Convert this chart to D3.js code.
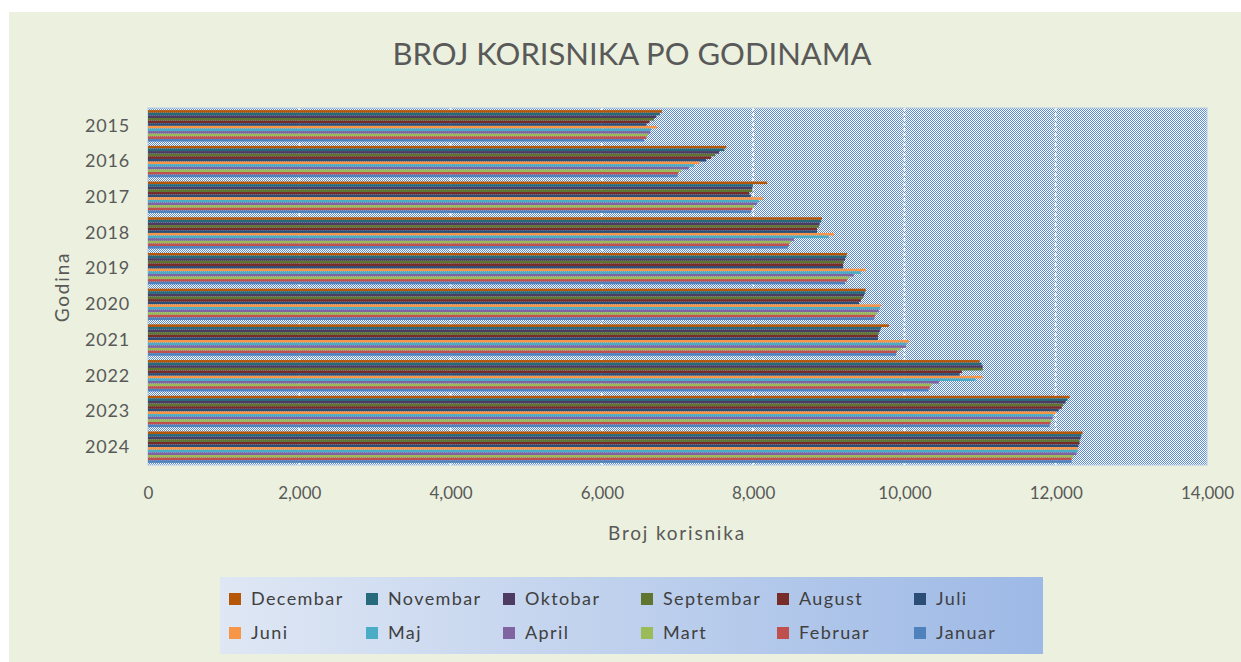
<!DOCTYPE html>
<html>
<head>
<meta charset="utf-8">
<script src="https://cdn.jsdelivr.net/npm/d3@7"></script>
<style>
  body { margin: 0; background: #ffffff; }
  text { font-family: Lato, "Open Sans", sans-serif; }
</style>
</head>
<body>
<div id="chart"></div>
<script>
// categories
const years = ['2015', '2016', '2017', '2018', '2019', '2020', '2021', '2022', '2023', '2024'];
// legend order = order of bars inside a group, top to bottom
const months = ['Decembar', 'Novembar', 'Oktobar', 'Septembar', 'August', 'Juli',
                'Juni', 'Maj', 'April', 'Mart', 'Februar', 'Januar'];

// series values, one per year 2015..2024
const januar    = [6560, 7000, 7970, 8460, 9215, 9600, 9890, 10320, 11920, 12210];
const februar   = [6590, 7010, 7990, 8475, 9240, 9610, 9900, 10335, 11930, 12210];
const mart      = [6610, 7050, 8010, 8500, 9270, 9640, 9950, 10360, 11945, 12235];
const april     = [6640, 7150, 8050, 8540, 9330, 9660, 10020, 10455, 11960, 12275];
const maj       = [6650, 7220, 8080, 9000, 9425, 9675, 10030, 10940, 11970, 12290];
const juni      = [6730, 7290, 8130, 9070, 9490, 9690, 10060, 11035, 12000, 12290];
const juli      = [6590, 7380, 7970, 8845, 9190, 9400, 9650, 10730, 12040, 12300];
const august    = [6630, 7445, 7950, 8845, 9190, 9425, 9650, 10760, 12080, 12315];
const septembar = [6690, 7500, 7990, 8870, 9200, 9450, 9660, 11035, 12100, 12315];
const oktobar   = [6720, 7550, 7990, 8880, 9215, 9465, 9675, 11035, 12130, 12330];
const novembar  = [6767, 7620, 8000, 8900, 9230, 9480, 9690, 11020, 12155, 12340];
const decembar  = [6795, 7645, 8185, 8910, 9240, 9490, 9795, 10995, 12185, 12355];

const xTicks = [0, 2000, 4000, 6000, 8000, 10000, 12000, 14000];

const seriesByMonth = {
  Decembar: decembar, Novembar: novembar, Oktobar: oktobar, Septembar: septembar,
  August: august, Juli: juli, Juni: juni, Maj: maj, April: april, Mart: mart,
  Februar: februar, Januar: januar
};

function colorByMonth(m) {
  if (m == 'Januar') return '#4F81BD';
  else if (m == 'Februar') return '#C0504D';
  else if (m == 'Mart') return '#9BBB59';
  else if (m == 'April') return '#8064A2';
  else if (m == 'Maj') return '#4BACC6';
  else if (m == 'Juni') return '#F79646';
  else if (m == 'Juli') return '#2C4D75';
  else if (m == 'August') return '#772C2A';
  else if (m == 'Septembar') return '#5F7530';
  else if (m == 'Oktobar') return '#4D3B62';
  else if (m == 'Novembar') return '#276A7C';
  else if (m == 'Decembar') return '#B65708';
  return 'black';
}

const width = 1241, height = 662;
const svg = d3.select('#chart').append('svg')
  .attr('width', width).attr('height', height);

const defs = svg.append('defs');
// small checkerboard of the plot area
const pat = defs.append('pattern')
  .attr('id', 'checker').attr('patternUnits', 'userSpaceOnUse')
  .attr('width', 2).attr('height', 2);
pat.append('rect').attr('width', 2).attr('height', 2).attr('fill', '#ffffff');
pat.append('rect').attr('x', 0).attr('y', 0).attr('width', 1).attr('height', 1).attr('fill', '#5b8cd3');
pat.append('rect').attr('x', 1).attr('y', 1).attr('width', 1).attr('height', 1).attr('fill', '#5b8cd3');

const grad = defs.append('linearGradient').attr('id', 'legendGrad')
  .attr('x1', '0%').attr('x2', '100%').attr('y1', '0%').attr('y2', '0%');
grad.append('stop').attr('offset', '0%').attr('stop-color', '#dfe7f4');
grad.append('stop').attr('offset', '100%').attr('stop-color', '#9db9e6');

// chart background
svg.append('rect')
  .attr('x', 9).attr('y', 12).attr('width', width - 9).attr('height', height - 12)
  .attr('fill', '#EBF1DE');

const plot = { left: 148, right: 1207, top: 108, bottom: 465 };

const x = d3.scaleLinear().domain([0, 14000]).range([plot.left, plot.right]);
const y0 = d3.scaleBand().domain(years).range([plot.top, plot.bottom])
  .paddingInner(0.12).paddingOuter(0.06);
const y1 = d3.scaleBand().domain(months).range([0, y0.bandwidth()]);

// plot area
svg.append('rect')
  .attr('x', plot.left).attr('y', plot.top)
  .attr('width', plot.right - plot.left).attr('height', plot.bottom - plot.top)
  .attr('fill', 'url(#checker)')
  .attr('stroke', '#b8cce4').attr('stroke-width', 1);

// gridlines
svg.append('g').selectAll('line')
  .data(xTicks.filter(t => t > 0 && t < 14000))
  .join('line')
  .attr('x1', d => x(d)).attr('x2', d => x(d))
  .attr('y1', plot.top).attr('y2', plot.bottom)
  .attr('stroke', '#f2f2f2').attr('stroke-width', 2)
  .attr('stroke-dasharray', '3,2');

// bars
const groups = svg.append('g').selectAll('g')
  .data(years)
  .join('g')
  .attr('transform', d => 'translate(0,' + y0(d) + ')');

groups.selectAll('rect')
  .data((yr, i) => months.map(m => ({ month: m, year: yr, value: seriesByMonth[m][i] })))
  .join('rect')
  .attr('x', x(0))
  .attr('y', d => y1(d.month))
  .attr('width', d => x(d.value) - x(0))
  .attr('height', y1.bandwidth())
  .attr('fill', d => colorByMonth(d.month));

// x axis
const xAxis = svg.append('g')
  .attr('transform', 'translate(0,' + plot.bottom + ')')
  .call(d3.axisBottom(x).tickValues(xTicks).tickFormat(d3.format(',')).tickSize(0).tickPadding(22));
xAxis.select('.domain').remove();
xAxis.selectAll('text').attr('fill', '#595959').style('font-size', '17px')
  .style('font-family', 'Lato, sans-serif');

// y axis
const yAxis = svg.append('g')
  .attr('transform', 'translate(' + plot.left + ',0)')
  .call(d3.axisLeft(y0).tickSize(0).tickPadding(18));
yAxis.select('.domain').remove();
yAxis.selectAll('text').attr('fill', '#595959').style('font-size', '18px')
  .style('letter-spacing', '0.8px')
  .style('font-family', 'Lato, sans-serif');

// title
svg.append('text')
  .attr('x', 632).attr('y', 65)
  .attr('text-anchor', 'middle')
  .attr('fill', '#595959')
  .style('font-size', '31px')
  .text('BROJ KORISNIKA PO GODINAMA');

// axis titles
svg.append('text')
  .attr('x', 677).attr('y', 540)
  .attr('text-anchor', 'middle')
  .attr('fill', '#595959')
  .style('font-size', '19px')
  .style('letter-spacing', '1.8px')
  .text('Broj korisnika');

svg.append('text')
  .attr('transform', 'translate(69,287) rotate(-90)')
  .attr('text-anchor', 'middle')
  .attr('fill', '#595959')
  .style('font-size', '19px')
  .style('letter-spacing', '1.8px')
  .text('Godina');

// legend
const legend = svg.append('g');
legend.append('rect')
  .attr('x', 220).attr('y', 577).attr('width', 823).attr('height', 77)
  .attr('fill', 'url(#legendGrad)');

const colX = [229, 366, 503, 641, 777, 914];
const rowY = [599, 633];

const items = legend.selectAll('g.item')
  .data(months)
  .join('g')
  .attr('class', 'item')
  .attr('transform', (d, i) => 'translate(' + colX[i % 6] + ',' + rowY[Math.floor(i / 6)] + ')');

items.append('rect')
  .attr('x', 0).attr('y', -6).attr('width', 12).attr('height', 12)
  .attr('fill', d => colorByMonth(d));

items.append('text')
  .attr('x', 22).attr('y', 6)
  .attr('fill', '#404040')
  .style('font-size', '18px')
  .style('letter-spacing', '1.4px')
  .text(d => d);
</script>
</body>
</html>
